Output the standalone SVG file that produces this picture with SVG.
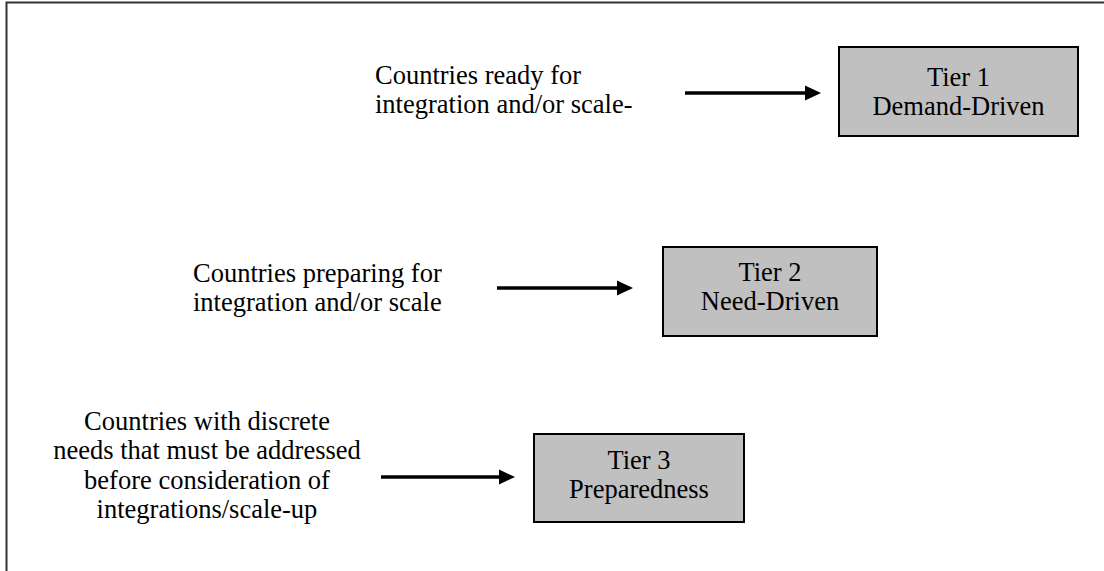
<svg xmlns="http://www.w3.org/2000/svg" width="1104" height="571" viewBox="0 0 1104 571">
<style>
.t{font-family:"Liberation Serif","Times New Roman",serif;font-size:26.5px;fill:#000}
.c{text-anchor:middle}
.box{fill:#c0c0c0;stroke:#000;stroke-width:2}
.ar{stroke:#000;stroke-width:3.5;fill:none}
</style>
<defs>
<marker id="ah" markerUnits="userSpaceOnUse" markerWidth="17" markerHeight="16" refX="0" refY="7.5" orient="auto" overflow="visible">
<path d="M0,0 L16,7.5 L0,15 Z" fill="#000"/>
</marker>
</defs>
<rect x="6.5" y="2.5" width="1110" height="590" fill="#fff" stroke="#333" stroke-width="2"/>
<g id="connectors">
<line class="ar" x1="685" y1="93" x2="805" y2="93" marker-end="url(#ah)"/>
<line class="ar" x1="497" y1="288" x2="617" y2="288" marker-end="url(#ah)"/>
<line class="ar" x1="381" y1="477" x2="499" y2="477" marker-end="url(#ah)"/>
</g>
<g id="label1">
<text class="t" x="375" y="84">Countries ready for</text>
<text class="t" x="375" y="113">integration and/or scale-</text>
</g>
<g id="label2">
<text class="t" x="193" y="282">Countries preparing for</text>
<text class="t" x="193" y="311">integration and/or scale</text>
</g>
<g id="label3">
<text class="t c" x="207" y="430">Countries with discrete</text>
<text class="t c" x="207" y="459">needs that must be addressed</text>
<text class="t c" x="207" y="489">before consideration of</text>
<text class="t c" x="207" y="518">integrations/scale-up</text>
</g>
<g id="tier1">
<rect class="box" x="839" y="47" width="239" height="89"/>
<text class="t c" x="958.5" y="86">Tier 1</text>
<text class="t c" x="958.5" y="115">Demand-Driven</text>
</g>
<g id="tier2">
<rect class="box" x="663" y="247" width="214" height="89"/>
<text class="t c" x="770" y="281">Tier 2</text>
<text class="t c" x="770" y="310">Need-Driven</text>
</g>
<g id="tier3">
<rect class="box" x="534" y="434" width="210" height="88"/>
<text class="t c" x="639" y="469">Tier 3</text>
<text class="t c" x="639" y="498">Preparedness</text>
</g>
</svg>
